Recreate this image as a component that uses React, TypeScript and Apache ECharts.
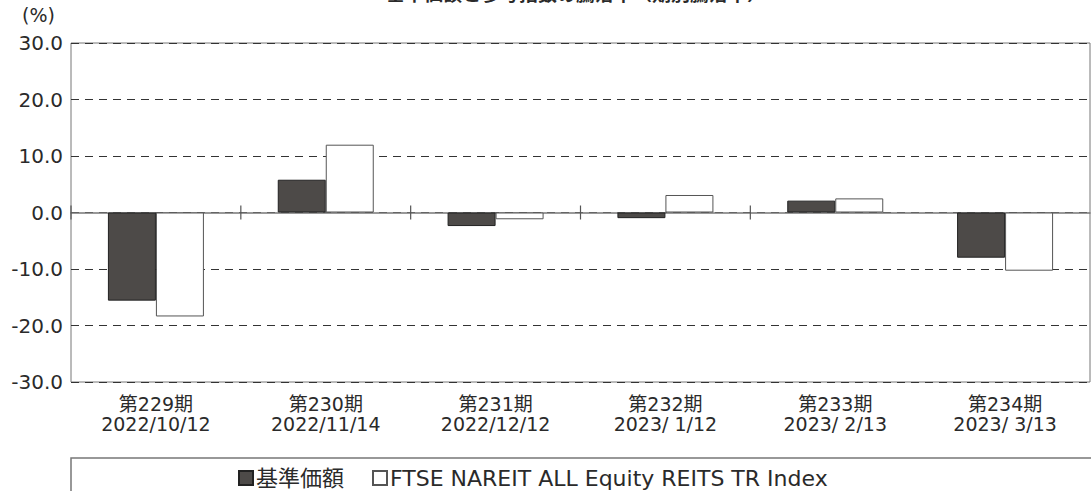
import React, { useEffect, useRef } from "react";
import * as echarts from "echarts";

const periods = ["第229期", "第230期", "第231期", "第232期", "第233期", "第234期"];
const dates = ["2022/10/12", "2022/11/14", "2022/12/12", "2023/ 1/12", "2023/ 2/13", "2023/ 3/13"];
const navReturns = [-15.6, 5.8, -2.4, -1.0, 2.1, -8.0];
const indexReturns = [-18.4, 12.0, -1.2, 3.1, 2.5, -10.3];
const seriesNames = ["基準価額", "FTSE NAREIT ALL Equity REITS TR Index"];
const titleText = "基準価額と参考指数の騰落率（期別騰落率）";

const FONT = "'DejaVu Sans', 'Noto Sans CJK JP', sans-serif";
const TEXT = "#2a2a2a";

export default function App() {
  const ref = useRef<HTMLDivElement>(null);
  useEffect(() => {
    if (!ref.current) return;
    const chart = echarts.init(ref.current, null, { renderer: "svg" });
    const categories = periods.map((p, i) => p + "\n" + dates[i]);
    // boundaries between neighbouring categories, for the ticks crossing the zero line
    const boundaries = periods.slice(1).map((_, i) => i + 1);
    chart.setOption({
      animation: false,
      textStyle: { fontFamily: FONT },
      title: {
        text: titleText,
        left: 571,
        textAlign: "center",
        top: -21,
        textStyle: { fontSize: 19, fontWeight: "bold", color: TEXT, fontFamily: FONT },
      },
      grid: {
        left: 71,
        right: 1,
        top: 43,
        bottom: 109,
        show: true,
        borderColor: "#777",
        borderWidth: 1,
      },
      legend: {
        left: 233,
        top: 462,
        itemWidth: 14,
        itemHeight: 14,
        itemGap: 28,
        icon: "rect",
        textStyle: { fontSize: 22, color: TEXT, fontFamily: FONT, padding: [0, 0, 0, -2] },
        data: seriesNames,
      },
      graphic: [
        {
          type: "rect",
          shape: { x: 71, y: 458, width: 1040, height: 60 },
          style: { fill: "none", stroke: "#777", lineWidth: 1.5 },
          silent: true,
        },
        {
          type: "text",
          x: 22,
          y: 5,
          style: { text: "(%)", fontSize: 19, fill: TEXT, fontFamily: FONT },
        },
      ],
      xAxis: [
        {
          type: "category",
          data: categories,
          position: "bottom",
          axisLine: { onZero: false, show: false },
          axisTick: { show: false },
          axisLabel: {
            fontSize: 19,
            color: TEXT,
            lineHeight: 20,
            margin: 12,
            fontFamily: FONT,
          },
        },
        {
          type: "category",
          data: categories,
          position: "bottom",
          axisLine: { onZero: true, lineStyle: { color: "#777", width: 1.5 } },
          axisTick: { show: false },
          axisLabel: { show: false },
        },
      ],
      yAxis: {
        type: "value",
        min: -30,
        max: 30,
        interval: 10,
        axisLine: { show: false },
        axisTick: { show: false },
        axisLabel: {
          fontSize: 20,
          color: TEXT,
          margin: 8,
          fontFamily: FONT,
          formatter: (v: number) => v.toFixed(1),
        },
        splitLine: { show: true, lineStyle: { color: "#333", type: [8, 6], width: 1 } },
      },
      series: [
        {
          name: seriesNames[0],
          type: "bar",
          xAxisIndex: 0,
          data: navReturns,
          barWidth: 48,
          barGap: "0%",
          itemStyle: { color: "#4d4a48", borderColor: "#222", borderWidth: 1 },
        },
        {
          name: seriesNames[1],
          type: "bar",
          xAxisIndex: 0,
          data: indexReturns,
          barWidth: 48,
          barGap: "0%",
          itemStyle: { color: "#ffffff", borderColor: "#555", borderWidth: 1 },
        },
        {
          type: "custom",
          xAxisIndex: 0,
          silent: true,
          z: 5,
          data: boundaries,
          renderItem: (params: any, api: any) => {
            const i = api.value(0);
            const a = api.coord([i - 1, 0]);
            const b = api.coord([i, 0]);
            const x = (a[0] + b[0]) / 2;
            const y = a[1];
            return {
              type: "line",
              shape: { x1: x, y1: y - 7, x2: x, y2: y + 7 },
              style: { stroke: "#555", lineWidth: 1.2 },
            };
          },
        },
      ],
    });
    return () => chart.dispose();
  }, []);
  return (
    <div
      ref={ref}
      style={{ position: "fixed", left: 0, top: 0, width: 1091, height: 491, background: "#fff" }}
    />
  );
}
